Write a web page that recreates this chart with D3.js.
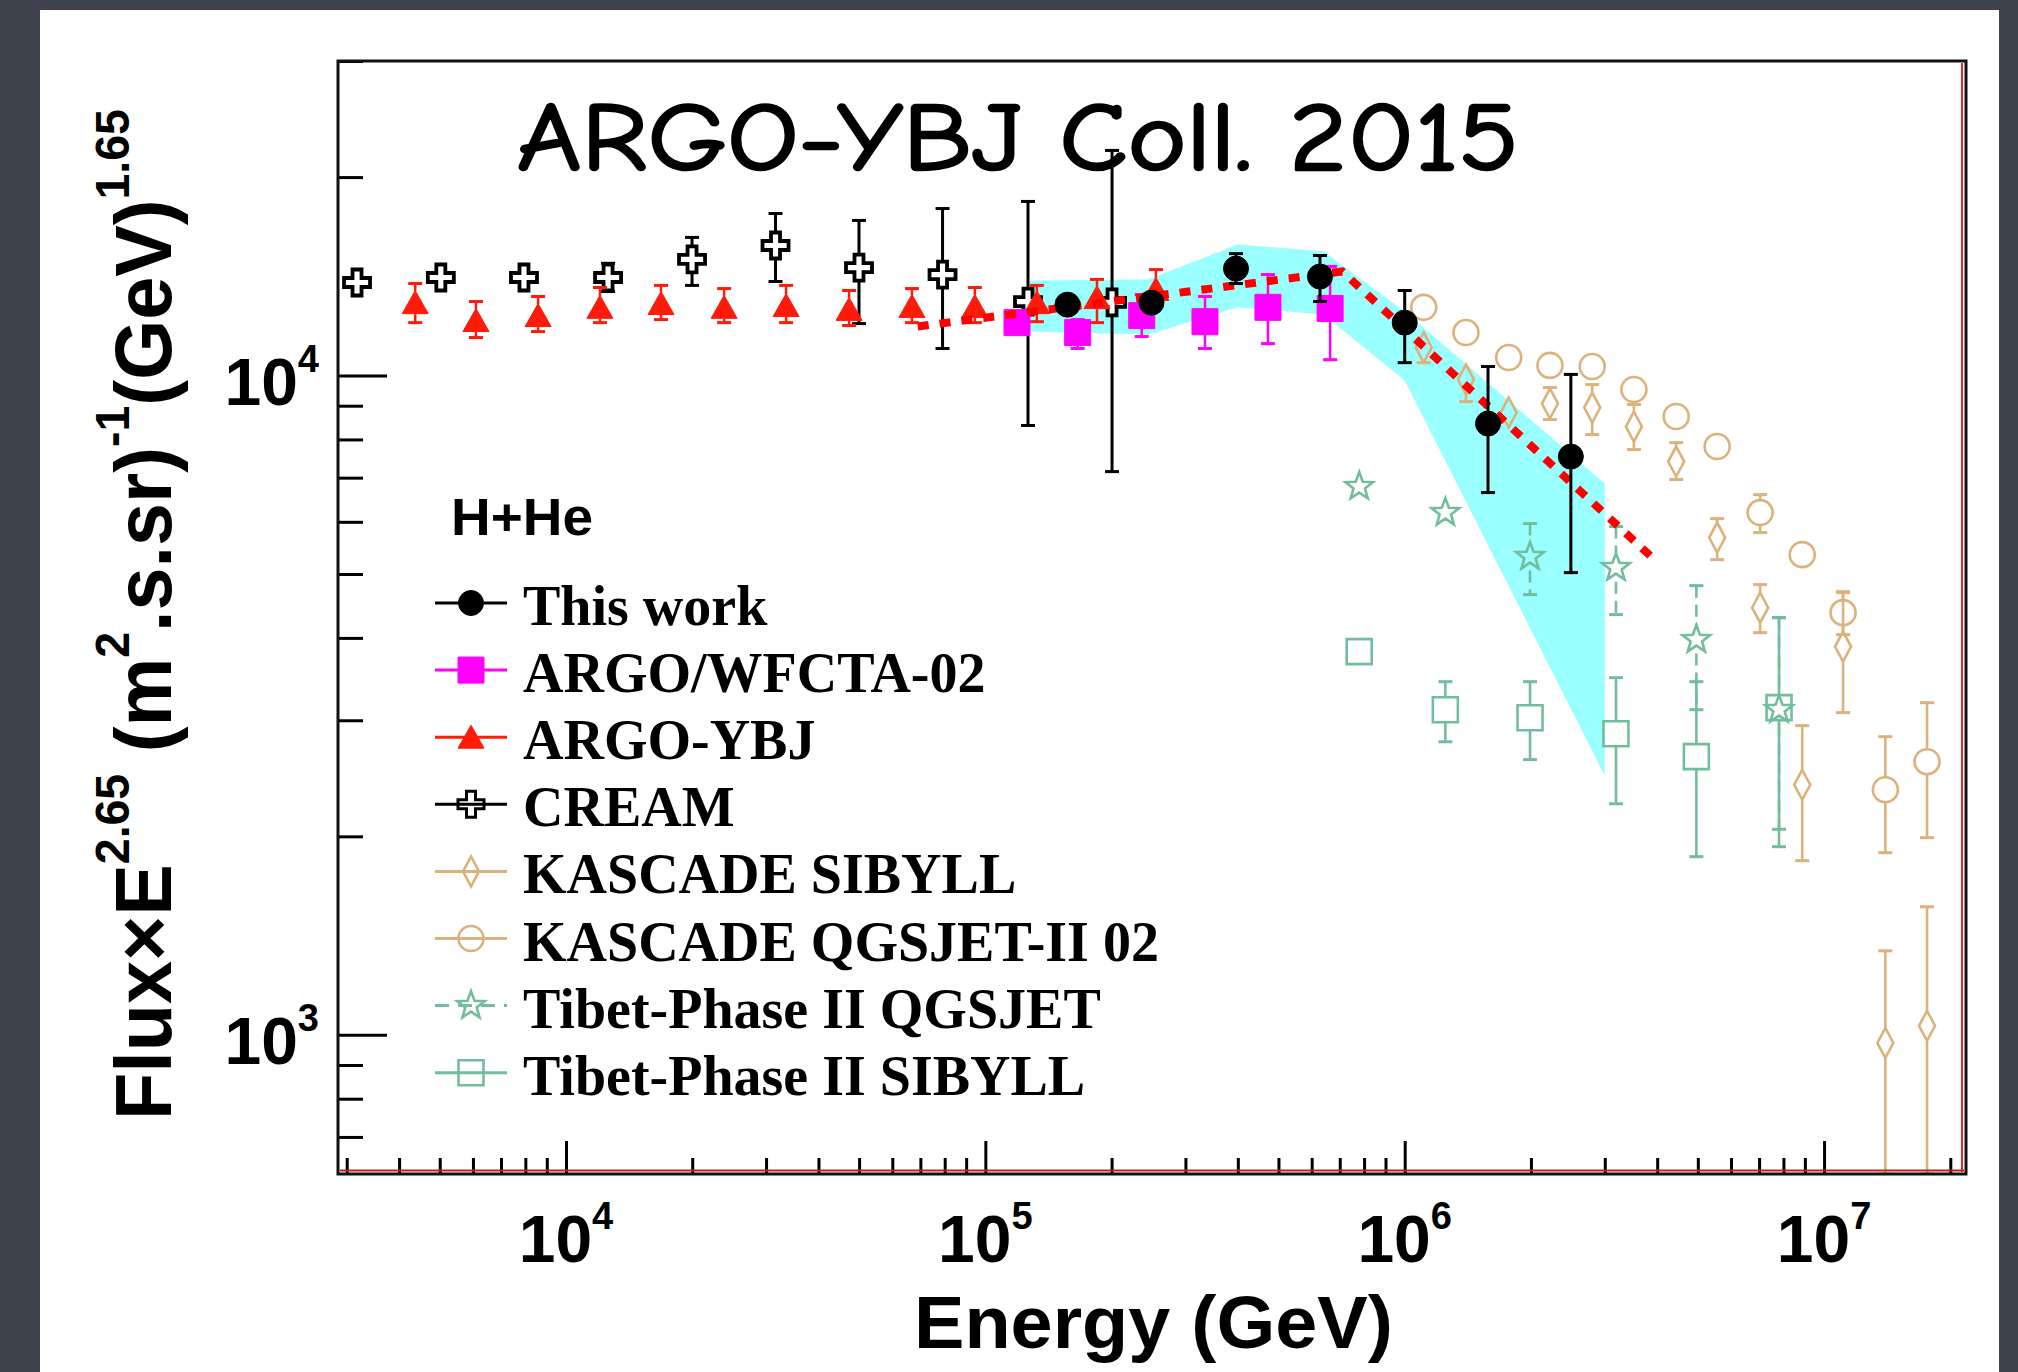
<!DOCTYPE html>
<html>
<head>
<meta charset="utf-8">
<title>H+He spectrum – ARGO-YBJ Coll. 2015</title>
<script src="https://cdn.jsdelivr.net/npm/d3@7/dist/d3.min.js"></script>
<style>
  html, body { margin: 0; padding: 0; background: #3e434d; }
  svg { display: block; }
</style>
</head>
<body>
<svg id="chart" width="2018" height="1372"></svg>
<script>
// ---------------- data ----------------
// Energy in GeV; flux multiplied by E^2.65, in (m^2 s sr)^-1 GeV^1.65.
// *Lo / *Hi are the lower and upper ends of each error bar.

const legendHeader = "H+He";
const legendLabels = [
  "This work", "ARGO/WFCTA-02", "ARGO-YBJ", "CREAM",
  "KASCADE SIBYLL", "KASCADE QGSJET-II 02",
  "Tibet-Phase II QGSJET", "Tibet-Phase II SIBYLL"
];

const thisWorkE  = [1.57e5, 2.49e5, 3.96e5, 6.28e5, 1.00e6, 1.58e6, 2.49e6];
const thisWorkF  = [12810, 12900, 14530, 14130, 12030, 8455, 7535];
const thisWorkLo = [12450, 12540, 13790, 12950, 10460, 6645, 5024];
const thisWorkHi = [13180, 13270, 15310, 15210, 13460, 10320, 10040];

const wfctaE  = [1.19e5, 1.66e5, 2.36e5, 3.34e5, 4.72e5, 6.64e5];
const wfctaF  = [12030, 11620, 12330, 12070, 12690, 12640];
const wfctaLo = [11700, 10990, 11460, 10990, 11180, 10570];
const wfctaHi = [12370, 12160, 13270, 13180, 14230, 14640];

const argoE  = [4370, 6100, 8580, 12050, 16850, 23830, 33490, 47320, 66830, 94400, 132700, 184600, 255100];
const argoF  = [12900, 12120, 12330, 12690, 12860, 12690, 12770, 12600, 12730, 12730, 12900, 13130, 13510];
const argoLo = [12030, 11420, 11660, 12030, 12160, 12030, 12030, 11910, 12030, 12030, 12070, 12030, 12730];
const argoHi = [13790, 12950, 13180, 13600, 13700, 13550, 13700, 13460, 13550, 13600, 13700, 13990, 14480];

const creamE  = [3175, 5030, 7940, 12600, 19980, 31600, 49970, 79060, 126400, 200500];
const creamF  = [13840, 14085, 14085, 14085, 15000, 15750, 14580, 14230, 12950, 12910];
const creamLo = [13300, 13550, 13550, 13410, 13700, 13890, 11990, 10990, 8400, 7150];
const creamHi = [14380, 14630, 14630, 14800, 16200, 17610, 17190, 17920, 18370, 21950];

const kascadeE = [1.11e6, 1.40e6, 1.77e6, 2.22e6, 2.80e6, 3.52e6, 4.44e6, 5.56e6, 7.04e6, 8.87e6, 1.11e7, 1.40e7, 1.76e7];

const kSibyllF  = [11030, 9860, 8787, 9069, 8943, 8366, 7405, 5678, 4446, 2395, 3880, 972, 1032];
const kSibyllLo = [10460, 9130, 8610, 8576, 8136, 7722, 6954, 5257, 4074, 1837, 3081, 615, 615];
const kSibyllHi = [11540, 10250, 8960, 9590, 9690, 9036, 7912, 6067, 4818, 2944, 4701, 1341, 1564];

const kQgsjetF  = [12690, 11620, 10650, 10360, 10320, 9525, 8666, 7804, 6196, 5350, 4369, 2354, 2596];
const kQgsjetLo = [12330, 11290, 10340, 10060, 10020, 9250, 8410, 7580, 5778, 5190, 4046, 1889, 1991];
const kQgsjetHi = [13060, 11960, 10970, 10670, 10630, 9810, 8930, 8040, 6597, 5510, 4685, 2833, 3190];

const tibetE = [7.79e5, 1.25e6, 1.99e6, 3.19e6, 4.96e6, 7.81e6];

const tQgsjetF  = [6786, 6196, 5313, 5112, 3976, 3113];
const tQgsjetLo = [6600, 6020, 4652, 4339, 3113, 2050];
const tQgsjetHi = [6980, 6370, 5963, 5901, 4801, 4293];

const tSibyllF  = [3813, 3113, 3027, 2862, 2642, 3135];
const tSibyllLo = [3700, 2783, 2615, 2241, 1863, 1929];
const tSibyllHi = [3930, 3433, 3433, 3481, 3433, 4293];

// systematic uncertainty band of this work
const bandE  = [1.28e5, 2.45e5, 4.0e5, 6.4e5, 1.0e6, 3.0e6];
const bandHi = [13940, 13990, 15810, 15430, 12510, 6857];
const bandLo = [11660, 11540, 12690, 12380, 9826, 2472];

// broken power-law fit
const fitE = [6.9e4, 7.1e5, 3.85e6];
const fitF = [11870, 14380, 5330];

// axis ticks
const xMajorTicks = [1e4, 1e5, 1e6, 1e7];
const xMajorExp   = ["4", "5", "6", "7"];
const yMajorTicks = [1e3, 1e4];
const yMajorExp   = ["3", "4"];

const titleText  = "ARGO-YBJ Coll. 2015";
const xAxisTitle = "Energy (GeV)";

// ---------------- layout ----------------
const W = 2018, H = 1372;
const frame = { left: 338, right: 1966, top: 61, bottom: 1174 };
const SANS  = "'Liberation Sans', Arial, Helvetica, sans-serif";
const SERIF = "'Liberation Serif', 'Times New Roman', Times, serif";

const svg = d3.select("#chart");

// slide background and white sheet
svg.append("rect").attr("width", W).attr("height", H).attr("fill", "#3e434d");
svg.append("rect").attr("x", 40).attr("y", 10).attr("width", 1959).attr("height", H - 10).attr("fill", "#ffffff");

const x = d3.scaleLog().domain([2860, 2.18e7]).range([frame.left, frame.right]);
const y = d3.scaleLog().domain([615, 30000]).range([frame.bottom, frame.top]);

svg.append("clipPath").attr("id", "plotClip")
  .append("rect")
  .attr("x", frame.left).attr("y", frame.top)
  .attr("width", frame.right - frame.left).attr("height", frame.bottom - frame.top);

// ---------------- marker shapes ----------------
function starPath(R, r) {
  const pts = [];
  for (let i = 0; i < 10; i++) {
    const a = -Math.PI / 2 + i * Math.PI / 5;
    const rad = i % 2 === 0 ? R : r;
    pts.push([rad * Math.cos(a), rad * Math.sin(a)]);
  }
  return "M" + pts.map(p => p[0].toFixed(2) + "," + p[1].toFixed(2)).join("L") + "Z";
}
const markers = {
  circle:   { d: "M-12.5,0a12.5,12.5 0 1,0 25,0a12.5,12.5 0 1,0 -25,0Z", half: 12.5 },
  ocircle:  { d: "M-12.5,0a12.5,12.5 0 1,0 25,0a12.5,12.5 0 1,0 -25,0Z", half: 12.5 },
  square:   { d: "M-13,-13H13V13H-13Z", half: 13 },
  osquare:  { d: "M-12.5,-12.5H12.5V12.5H-12.5Z", half: 12.5 },
  triangle: { d: "M0,-12L13,11L-13,11Z", half: 11.5 },
  cross:    { d: "M-4.5,-13H4.5V-4.5H13V4.5H4.5V13H-4.5V4.5H-13V-4.5H-4.5Z", half: 13 },
  diamond:  { d: "M0,-15L8,0L0,15L-8,0Z", half: 15 },
  star:     { d: starPath(14.5, 6), half: 14 }
};

// ---------------- series ----------------
const BLACK = "#000000", MAGENTA = "#ff00ff", RED = "#ff1a0a",
      TAN = "#dcb27c", GREEN = "#72bd9b", CYAN = "#99ffff";

const series = [
  { label: legendLabels[0], E: thisWorkE, F: thisWorkF, lo: thisWorkLo, hi: thisWorkHi, color: BLACK,   marker: "circle",   filled: true,  sw: 3 },
  { label: legendLabels[1], E: wfctaE,    F: wfctaF,    lo: wfctaLo,    hi: wfctaHi,    color: MAGENTA, marker: "square",   filled: true,  sw: 2.5 },
  { label: legendLabels[2], E: argoE,     F: argoF,     lo: argoLo,     hi: argoHi,     color: RED,     marker: "triangle", filled: true,  sw: 2.5 },
  { label: legendLabels[3], E: creamE,    F: creamF,    lo: creamLo,    hi: creamHi,    color: BLACK,   marker: "cross",    filled: false, sw: 3.8, fill: "#ffffff" },
  { label: legendLabels[4], E: kascadeE,  F: kSibyllF,  lo: kSibyllLo,  hi: kSibyllHi,  color: TAN,     marker: "diamond",  filled: false, sw: 2.6 },
  { label: legendLabels[5], E: kascadeE,  F: kQgsjetF,  lo: kQgsjetLo,  hi: kQgsjetHi,  color: TAN,     marker: "ocircle",  filled: false, sw: 2.6 },
  { label: legendLabels[6], E: tibetE,    F: tQgsjetF,  lo: tQgsjetLo,  hi: tQgsjetHi,  color: GREEN,   marker: "star",     filled: false, sw: 2.6, dash: "12 7" },
  { label: legendLabels[7], E: tibetE,    F: tSibyllF,  lo: tSibyllLo,  hi: tSibyllHi,  color: GREEN,   marker: "osquare",  filled: false, sw: 2.6 }
];

const plotG = svg.append("g").attr("clip-path", "url(#plotClip)");

// systematic band
const bandRows = bandE.map((e, i) => ({ e, lo: bandLo[i], hi: bandHi[i] }));
plotG.append("path")
  .datum(bandRows)
  .attr("fill", CYAN)
  .attr("d", d3.area().x(d => x(d.e)).y0(d => y(d.lo)).y1(d => y(d.hi)));

function drawSeries(s) {
  const g = plotG.append("g");
  const m = markers[s.marker];
  const cap = 7;
  const rows = s.E.map((e, i) => ({ e, f: s.F[i], lo: s.lo[i], hi: s.hi[i] }));
  const pts = g.selectAll("g.pt").data(rows).join("g").attr("class", "pt");
  pts.each(function (d) {
    const p = d3.select(this);
    const cx = x(d.e), cy = y(d.f), yh = y(d.hi), yl = y(d.lo);
    const segs = [];
    if (yh < cy - m.half) segs.push([yh, cy - m.half]);
    if (yl > cy + m.half) segs.push([cy + m.half, yl]);
    segs.forEach(([a, b]) => {
      p.append("line").attr("x1", cx).attr("x2", cx).attr("y1", a).attr("y2", b)
        .attr("stroke", s.color).attr("stroke-width", s.sw > 3 ? 3 : s.sw)
        .attr("stroke-dasharray", s.dash || null);
    });
    [yh, yl].forEach(yy => {
      if (Math.abs(yy - cy) > m.half) {
        p.append("line").attr("x1", cx - cap).attr("x2", cx + cap).attr("y1", yy).attr("y2", yy)
          .attr("stroke", s.color).attr("stroke-width", 3);
      }
    });
    p.append("path").attr("d", m.d)
      .attr("transform", `translate(${cx},${cy})`)
      .attr("fill", s.filled ? s.color : (s.fill || "none"))
      .attr("stroke", s.color)
      .attr("stroke-width", s.filled ? 1 : s.sw)
      .attr("stroke-linejoin", "miter");
  });
}

// draw order: CREAM, ARGO-YBJ, WFCTA, KASCADE, Tibet, fit line, this work
[3, 2, 1, 4, 5, 6, 7].forEach(i => drawSeries(series[i]));

const fitRows = fitE.map((e, i) => ({ e, f: fitF[i] }));
plotG.append("path")
  .datum(fitRows)
  .attr("fill", "none")
  .attr("stroke", "#ff0000")
  .attr("stroke-width", 8)
  .attr("stroke-dasharray", "11 11")
  .attr("d", d3.line().x(d => x(d.e)).y(d => y(d.f)));

drawSeries(series[0]);

// ---------------- axes ----------------
const isDecade = v => Math.abs(Math.log10(v) - Math.round(Math.log10(v))) < 1e-9;

const xMinor = x.ticks().filter(v => !isDecade(v));
const yMinor = y.ticks().filter(v => !isDecade(v));

function styleAxis(g) {
  g.select(".domain").remove();
  g.selectAll(".tick line").attr("stroke", "#000").attr("stroke-width", 3);
  g.selectAll(".tick text").remove();
}

svg.append("g").attr("transform", `translate(0,${frame.bottom})`)
  .call(d3.axisBottom(x).tickValues(xMinor).tickSize(-16).tickFormat(""))
  .call(styleAxis);
svg.append("g").attr("transform", `translate(0,${frame.bottom})`)
  .call(d3.axisBottom(x).tickValues(xMajorTicks).tickSize(-33).tickFormat(""))
  .call(styleAxis);
svg.append("g").attr("transform", `translate(${frame.left},0)`)
  .call(d3.axisLeft(y).tickValues(yMinor).tickSize(-25).tickFormat(""))
  .call(styleAxis);
svg.append("g").attr("transform", `translate(${frame.left},0)`)
  .call(d3.axisLeft(y).tickValues(yMajorTicks).tickSize(-49).tickFormat(""))
  .call(styleAxis);

// frame
svg.append("rect")
  .attr("x", frame.left).attr("y", frame.top)
  .attr("width", frame.right - frame.left).attr("height", frame.bottom - frame.top)
  .attr("fill", "none").attr("stroke", "#111").attr("stroke-width", 3);
svg.append("line").attr("x1", frame.right - 4).attr("x2", frame.right - 4)
  .attr("y1", frame.top + 2).attr("y2", frame.bottom - 2)
  .attr("stroke", "#e8262a").attr("stroke-width", 2);
svg.append("line").attr("x1", frame.left + 2).attr("x2", frame.right - 2)
  .attr("y1", frame.bottom - 3.5).attr("y2", frame.bottom - 3.5)
  .attr("stroke", "#c0201f").attr("stroke-width", 2);

// power-of-ten tick labels
function powerLabel(parent, tx, ty, anchor, base, exp) {
  const t = parent.append("text")
    .attr("x", tx).attr("y", ty)
    .attr("text-anchor", anchor)
    .attr("font-family", SANS).attr("font-weight", "bold")
    .attr("font-size", 66).attr("fill", "#000");
  t.append("tspan").text(base);
  t.append("tspan").attr("dy", -33).attr("font-size", 38).text(exp);
  return t;
}
xMajorTicks.forEach((v, i) => powerLabel(svg, x(v), 1262, "middle", "10", xMajorExp[i]));
yMajorTicks.forEach((v, i) => powerLabel(svg, 319, y(v) + 29, "end", "10", yMajorExp[i]));

// text helper: stretch/squeeze horizontally to a given width
function fitText(textSel, width) {
  const w = textSel.node().getBBox().width;
  if (w > 0) textSel.attr("transform", `scale(${width / w},1)`);
}

// x-axis title
{
  const g = svg.append("g").attr("transform", "translate(914,1348)");
  const t = g.append("text").attr("x", 0).attr("y", 0)
    .attr("font-family", SANS).attr("font-weight", "bold").attr("font-size", 74)
    .attr("fill", "#000").text(xAxisTitle);
  fitText(t, 479);
}

// y-axis title (rotated, with superscripts)
{
  const g = svg.append("g").attr("transform", "translate(171,1120) rotate(-90)");
  const t = g.append("text").attr("x", 0).attr("y", 0)
    .attr("font-family", SANS).attr("font-weight", "bold").attr("font-size", 80)
    .attr("fill", "#000");
  const parts = [
    ["Flux\u00D7E", false], ["2.65", true], [" (m", false], ["2", true],
    [".s.sr)", false], ["-1", true], ["(GeV)", false], ["1.65", true]
  ];
  let raised = false;
  parts.forEach(([txt, sup]) => {
    const ts = t.append("tspan").text(txt);
    if (sup && !raised) { ts.attr("dy", -42).attr("font-size", 48); raised = true; }
    else if (sup) { ts.attr("font-size", 48); }
    else if (raised) { ts.attr("dy", 42); raised = false; }
  });
  fitText(t, 1011);
}

// title
{
  const g = svg.append("g").attr("transform", "translate(517,170)");
  const t = g.append("text").attr("x", 0).attr("y", 0)
    .attr("font-family", "'Comic Sans MS', 'Comic Neue', 'DejaVu Sans', sans-serif")
    .attr("font-size", 98).attr("fill", "#000")
    .attr("stroke", "#000").attr("stroke-width", 2.6).attr("stroke-linejoin", "round")
    .text(titleText);
  fitText(t, 1002);
}

// ---------------- legend ----------------
{
  const g = svg.append("g").attr("transform", "translate(451,535)");
  const t = g.append("text").attr("x", 0).attr("y", 0)
    .attr("font-family", SANS).attr("font-weight", "bold").attr("font-size", 52)
    .attr("fill", "#000").text(legendHeader);
  fitText(t, 142);
}

const legendTop = 603, legendStep = 67.1;
const legend = svg.append("g");
series.forEach((s, i) => {
  const ry = legendTop + i * legendStep;
  const row = legend.append("g");
  row.append("line").attr("x1", 435).attr("x2", 507).attr("y1", ry).attr("y2", ry)
    .attr("stroke", s.color).attr("stroke-width", 3)
    .attr("stroke-dasharray", s.dash ? "14 9" : null);
  row.append("path").attr("d", markers[s.marker].d)
    .attr("transform", `translate(471,${ry})`)
    .attr("fill", s.filled ? s.color : "none")
    .attr("stroke", s.color)
    .attr("stroke-width", s.filled ? 1 : Math.min(s.sw, 3));
  row.append("text").attr("x", 523).attr("y", ry + 22)
    .attr("font-family", SERIF).attr("font-weight", "bold").attr("font-size", 56)
    .attr("fill", "#000").text(s.label);
});
</script>
</body>
</html>
